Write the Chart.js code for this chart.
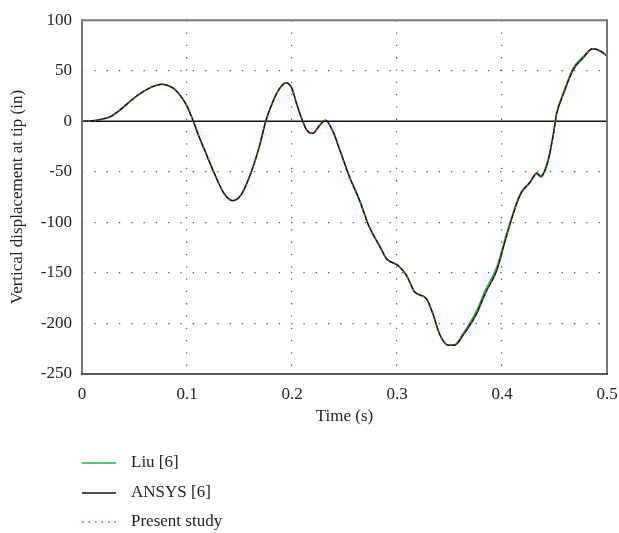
<!DOCTYPE html>
<html>
<head>
<meta charset="utf-8">
<script src="https://cdn.jsdelivr.net/npm/chart.js@4"></script>
<style>
  html, body { margin: 0; padding: 0; background: #fff; }
  #wrap { width: 619px; height: 533px; }
</style>
</head>
<body>
<div id="wrap"><canvas id="myChart" width="619" height="533"></canvas></div>
<script>
// time (s)
var times = [0, 0.01, 0.017, 0.027, 0.036, 0.046, 0.054, 0.062, 0.069, 0.076, 0.083, 0.090, 0.096, 0.100,
    0.106, 0.111, 0.117, 0.125, 0.135, 0.1435, 0.152, 0.1616, 0.1695, 0.175, 0.182, 0.1886, 0.1943,
    0.1997, 0.2045, 0.2102, 0.214, 0.2197, 0.226, 0.232, 0.2394, 0.2457, 0.255, 0.265, 0.273, 0.284,
    0.290, 0.301, 0.309, 0.317, 0.328, 0.334, 0.341, 0.349, 0.355, 0.363, 0.376, 0.384, 0.395, 0.404,
    0.415, 0.4187, 0.4267, 0.433, 0.4368, 0.444, 0.449, 0.452, 0.4584, 0.468, 0.4774, 0.4863, 0.4949, 0.5];

// vertical displacement at tip (in)
var ansys = [0, 0.5, 1.7, 4.5, 11, 20, 26.5, 31.6, 35, 36.6, 35, 30, 22, 15,
    0, -14, -29, -49, -71, -78.5, -72, -49, -22.6, 0, 20, 33, 38,
    33, 17, 0, -8.8, -12, -4.5, 1, -11, -29, -55.5, -80, -103, -124.5,
    -136, -142.6, -152.5, -169, -175.5, -190, -211.6, -221.5, -221.5, -211.6, -190, -170.5, -147.5, -114.7,
    -78.5, -70.3, -60.5, -51.6, -54.8, -39, -12.7, 7, 26.7, 51.4, 62.8, 71.7, 68.7, 64.5];

var liu = [0, 0.5, 1.7, 4.5, 11, 20, 26.5, 31.6, 35, 36.6, 35, 30, 22, 15,
    0, -14, -29, -49, -71, -78.5, -72, -49, -22.6, 0, 20, 33, 38,
    33, 17, 0, -8.8, -12, -4.5, 1, -11, -29, -55.5, -80, -103, -124.5,
    -136, -142.6, -152.5, -169, -175.5, -190, -211.6, -221.5, -221, -210, -187, -167.5, -144.5, -112.5,
    -77.5, -69.5, -60, -51, -54, -37.5, -11.5, 8.5, 28, 53, 64, 71.7, 68.7, 64.5];

var present = [0, 0.5, 1.7, 4.5, 11, 20, 26.5, 31.6, 35, 36.6, 35, 30, 22, 15,
    0, -14, -29, -49, -71, -78.5, -72, -49, -22.6, 0, 20, 33, 38,
    33, 17, 0, -8.8, -12, -4.5, 1, -11, -29, -55.5, -80, -103, -124.5,
    -136, -142.6, -152.5, -169, -175.5, -190, -211.6, -221.5, -221.5, -211.6, -190, -170.5, -147.5, -114.7,
    -78.5, -70.3, -60.5, -51.6, -54.8, -39, -12.7, 7, 26.7, 51.4, 62.8, 71.7, 68.7, 64.5];

var seriesNames = ['Liu [6]', 'ANSYS [6]', 'Present study'];
var yTicks = [-250, -200, -150, -100, -50, 0, 50, 100];
var xTicks = [0, 0.1, 0.2, 0.3, 0.4, 0.5];

var FONT = '"Liberation Serif", "Times New Roman", serif';

function pts(vals) {
    return times.map(function (t, i) { return { x: t, y: vals[i] }; });
}

// zero line, frame and the legend under the plot
var extras = {
    id: 'extras',
    beforeDatasetsDraw: function (chart) {
        var ctx = chart.ctx, a = chart.chartArea;
        var y0 = chart.scales.y.getPixelForValue(0);
        ctx.save();
        ctx.strokeStyle = '#111';
        ctx.lineWidth = 1.5;
        ctx.beginPath();
        ctx.moveTo(a.left, y0);
        ctx.lineTo(a.right, y0);
        ctx.stroke();
        ctx.restore();
    },
    afterDraw: function (chart) {
        var ctx = chart.ctx, a = chart.chartArea;
        ctx.save();
        ctx.strokeStyle = '#777';
        ctx.lineWidth = 2;
        ctx.beginPath();
        ctx.moveTo(a.left, a.bottom);
        ctx.lineTo(a.left, a.top);
        ctx.lineTo(a.right, a.top);
        ctx.lineTo(a.right, a.bottom);
        ctx.stroke();
        ctx.strokeStyle = '#222';
        ctx.lineWidth = 1.5;
        ctx.beginPath();
        ctx.moveTo(a.left - 1, a.bottom);
        ctx.lineTo(a.right + 1, a.bottom);
        ctx.stroke();

        // legend
        var rows = [463, 493, 522];
        ctx.font = '17px ' + FONT;
        ctx.textBaseline = 'middle';
        ctx.textAlign = 'left';
        chart.data.datasets.forEach(function (ds, i) {
            var y = rows[i];
            ctx.strokeStyle = ds.borderColor;
            ctx.lineWidth = 1.3;
            ctx.setLineDash(ds.borderDash || []);
            ctx.beginPath();
            ctx.moveTo(82, y);
            ctx.lineTo(116, y);
            ctx.stroke();
            ctx.setLineDash([]);
            ctx.fillStyle = '#222';
            ctx.fillText(ds.label, 131, y);
        });
        ctx.restore();
    }
};

var ctx = document.getElementById('myChart').getContext('2d');
var myChart = new Chart(ctx, {
    type: 'line',
    data: {
        datasets: [{
            label: seriesNames[0],
            data: pts(liu),
            borderColor: '#22b24c',
            borderWidth: 1.6,
            order: 3
        }, {
            label: seriesNames[1],
            data: pts(ansys),
            borderColor: '#111',
            borderWidth: 1.4,
            order: 2
        }, {
            label: seriesNames[2],
            data: pts(present),
            borderColor: '#ff3030',
            borderWidth: 1.4,
            borderDash: [1.5, 5],
            order: 1
        }]
    },
    options: {
        responsive: false,
        animation: false,
        events: [],
        cubicInterpolationMode: 'monotone',
        pointRadius: 0,
        layout: { padding: { left: 0, right: 0, top: 19, bottom: 103 } },
        plugins: {
            legend: { display: false },
            tooltip: { enabled: false }
        },
        elements: { point: { radius: 0 } },
        scales: {
            x: {
                type: 'linear',
                min: 0,
                max: 0.5,
                afterFit: function (s) { s.height = 56; s.paddingRight = 12; },
                afterBuildTicks: function (s) { s.ticks = xTicks.map(function (v) { return { value: v }; }); },
                ticks: {
                    padding: 10,
                    color: '#222',
                    font: { family: FONT, size: 17 },
                    callback: function (v) { return String(Math.round(v * 10) / 10); }
                },
                grid: {
                    drawTicks: false,
                    color: function (c) { return (c.tick.value === 0 || c.tick.value === 0.5) ? 'rgba(0,0,0,0)' : '#555'; },
                    lineWidth: 1.2
                },
                border: { display: false, dash: [1.3, 11] },
                title: {
                    display: true,
                    text: 'Time (s)',
                    color: '#222',
                    font: { family: FONT, size: 17 },
                    padding: { top: 0, bottom: 3 }
                }
            },
            y: {
                min: -250,
                max: 100,
                afterFit: function (s) { s.width = 82; },
                afterBuildTicks: function (s) { s.ticks = yTicks.map(function (v) { return { value: v }; }); },
                ticks: {
                    padding: 10,
                    color: '#222',
                    font: { family: FONT, size: 17 }
                },
                grid: {
                    drawTicks: false,
                    color: function (c) { return (c.tick.value === 0 || c.tick.value === 100 || c.tick.value === -250) ? 'rgba(0,0,0,0)' : '#555'; },
                    lineWidth: 1.2
                },
                border: { display: false, dash: [1.3, 11] },
                title: {
                    display: true,
                    text: 'Vertical displacement at tip (in)',
                    color: '#222',
                    font: { family: FONT, size: 17 },
                    padding: { top: 7, bottom: 0 }
                }
            }
        }
    },
    plugins: [extras]
});
</script>
</body>
</html>
